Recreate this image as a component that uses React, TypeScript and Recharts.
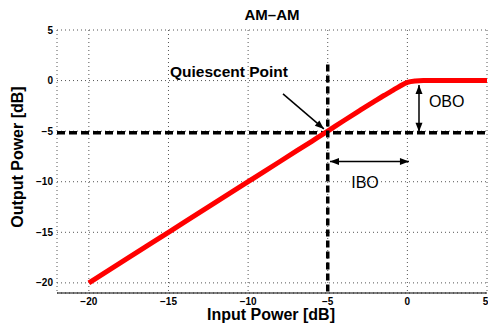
import React from 'react';
import {
    ComposedChart, Line, XAxis, YAxis, CartesianGrid, ReferenceLine, ReferenceDot,
} from 'recharts';

// AM-AM transfer curve (input dB -> output dB)
const inputPower = [-20, -18, -16, -14, -12, -10, -8, -6, -5, -4, -3, -2, -1.5, -1, -0.5, 0, 0.5, 1, 2, 3, 4, 5];
const outputPower = [-20, -18, -16, -14, -12, -10, -8, -6, -5, -3.97, -2.97, -1.98, -1.5, -1.05, -0.58, -0.18, -0.04, 0, 0, 0, 0, 0];

const xTicks = [-20, -15, -10, -5, 0, 5];
const yTicks = [-20, -15, -10, -5, 0, 5];

// annotation geometry, in data units
const quiescent = { x: -5, y: -5.15 };
const quiescentArrow = [{ x: -7.81, y: -1.32 }, { x: -5.24, y: -4.78 }];
const iboArrow = [{ x: -4.86, y: -8.01 }, { x: 0.1, y: -8.01 }];
const oboArrow = [{ x: 0.73, y: -0.43 }, { x: 0.73, y: -5.05 }];
const notes = [
    { text: 'Quiescent Point', x: -11.2, y: 0.85, bold: true },
    { text: 'IBO', x: -2.66, y: -10.1, bold: false },
    { text: 'OBO', x: 2.47, y: -2.08, bold: false },
];

const data = inputPower.map((x, i) => ({ x, y: outputPower[i] }));

const FONT = '"Liberation Sans", Arial, sans-serif';

function head(x: number, y: number, fromX: number, fromY: number) {
    const a = Math.atan2(y - fromY, x - fromX);
    const len = 9;
    const w = 3.5;
    const bx = x - len * Math.cos(a);
    const by = y - len * Math.sin(a);
    const px = -Math.sin(a) * w;
    const py = Math.cos(a) * w;
    return `${x},${y} ${bx + px},${by + py} ${bx - px},${by - py}`;
}

const arrowShape = (both: boolean) => (p: any) => (
    <g>
        <line x1={p.x1} y1={p.y1} x2={p.x2} y2={p.y2} stroke="#000" strokeWidth={1.5} />
        <polygon points={head(p.x2, p.y2, p.x1, p.y1)} fill="#000" />
        {both && <polygon points={head(p.x1, p.y1, p.x2, p.y2)} fill="#000" />}
    </g>
);

export default function App() {
    return (
        <div style={{ position: 'absolute', left: 0, top: 0, width: 488, height: 327, background: '#fff', fontFamily: FONT }}>
            <div style={{ position: 'absolute', left: 0, width: 544, top: 6, textAlign: 'center', fontSize: 15, fontWeight: 'bold', lineHeight: '18px' }}>
                AM–AM
            </div>
            <ComposedChart width={488} height={327} data={data} margin={{ top: 30, right: 1, bottom: 14, left: 0 }}>
                <CartesianGrid stroke="#555" strokeDasharray="1 3" strokeWidth={1} />
                <XAxis
                    type="number"
                    dataKey="x"
                    domain={[-22, 5]}
                    ticks={xTicks}
                    allowDataOverflow
                    height={20}
                    tickLine={false}
                    tickSize={0}
                    tickMargin={5}
                    axisLine={{ stroke: '#000', strokeWidth: 1 }}
                    tick={{ fill: '#000', fontSize: 10, fontWeight: 'bold' }}
                    tickFormatter={(v: number) => String(v).replace('-', '\u2212')}
                />
                <YAxis
                    type="number"
                    domain={[-21, 5]}
                    ticks={yTicks}
                    allowDataOverflow
                    width={57}
                    axisLine={false}
                    tickLine={false}
                    tickSize={0}
                    tickMargin={4}
                    tick={{ fill: '#000', fontSize: 10, fontWeight: 'bold' }}
                    tickFormatter={(v: number) => String(v).replace('-', '\u2212')}
                />
                <ReferenceLine
                    segment={[{ x: -22, y: quiescent.y }, { x: 5, y: quiescent.y }]}
                    stroke="#000"
                    strokeWidth={3.5}
                    strokeDasharray="8 4"
                />
                <Line
                    type="monotone"
                    dataKey="y"
                    stroke="#ff0000"
                    strokeWidth={5}
                    dot={false}
                    isAnimationActive={false}
                />
                <ReferenceLine
                    segment={[{ x: quiescent.x, y: 1.6 }, { x: quiescent.x, y: -21 }]}
                    stroke="#000"
                    strokeWidth={3.5}
                    strokeDasharray="7 4"
                />
                <ReferenceLine segment={quiescentArrow} shape={arrowShape(false)} />
                <ReferenceLine segment={iboArrow} shape={arrowShape(true)} />
                <ReferenceLine segment={oboArrow} shape={arrowShape(true)} />
                {notes.map(n => (
                    <ReferenceDot
                        key={n.text}
                        x={n.x}
                        y={n.y}
                        r={0}
                        fill="none"
                        stroke="none"
                        label={{ value: n.text, position: 'center', fill: '#000', fontSize: n.bold ? 15.5 : 16, fontWeight: n.bold ? 'bold' : 'normal' }}
                    />
                ))}
            </ComposedChart>
            <div style={{ position: 'absolute', left: 0, width: 542, top: 306, textAlign: 'center', fontSize: 16, fontWeight: 'bold', lineHeight: '18px' }}>
                Input Power [dB]
            </div>
            <div style={{ position: 'absolute', left: 18, top: 157, width: 0, height: 0 }}>
                <div style={{ position: 'absolute', left: -100, top: -9, width: 200, textAlign: 'center', fontSize: 16, fontWeight: 'bold', lineHeight: '18px', transform: 'rotate(-90deg)' }}>
                    Output Power [dB]
                </div>
            </div>
        </div>
    );
}
